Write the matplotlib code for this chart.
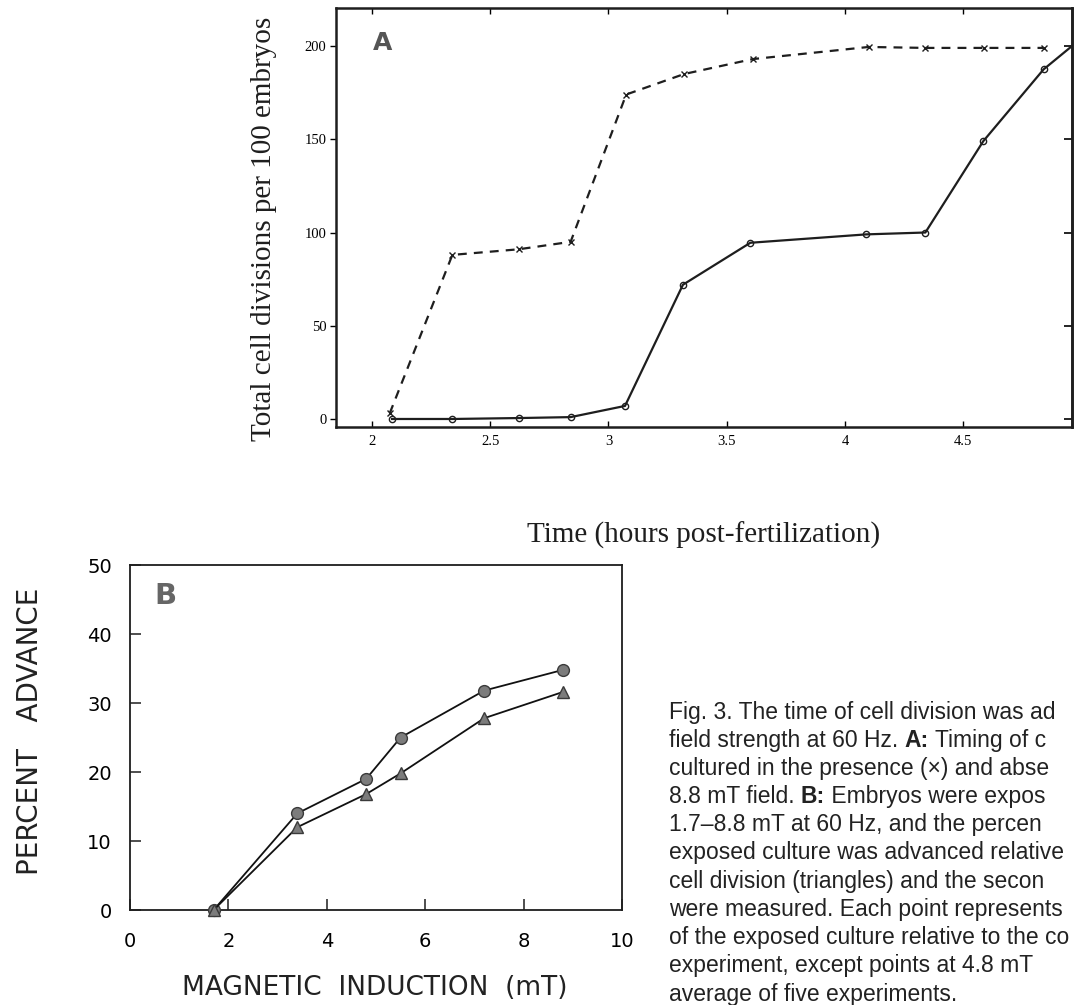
import matplotlib
matplotlib.use("Agg")
import matplotlib.pyplot as plt

# ---------------- data ----------------
# Panel A: total cell divisions per 100 embryos vs time (h post-fertilization)
time_field = [2.075, 2.34, 2.62, 2.84, 3.075, 3.32, 3.61, 4.10, 4.34, 4.59, 4.84]
div_field = [3, 88, 91, 95, 174, 185, 193, 199.5, 199, 199, 199]
time_ctrl = [2.085, 2.34, 2.62, 2.84, 3.07, 3.315, 3.60, 4.09, 4.34, 4.585, 4.84, 4.96]
div_ctrl = [0, 0, 0.5, 1, 7, 72, 94.5, 99, 100, 149, 187.5, 200]
a_xticks = [2, 2.5, 3, 3.5, 4, 4.5]
a_yticks = [0, 50, 100, 150, 200]

# Panel B: percent advance vs magnetic induction (mT)
induction = [1.7, 3.4, 4.8, 5.5, 7.2, 8.8]
adv_second = [0, 14, 19, 25, 31.8, 34.8]   # circles
adv_first = [0, 12, 16.8, 19.8, 27.8, 31.6]  # triangles
b_xticks = [0, 2, 4, 6, 8, 10]
b_yticks = [0, 10, 20, 30, 40, 50]

caption = [
    [("Fig. 3. The time of cell division was ad", False)],
    [("field strength at 60 Hz. ", False), ("A:", True), (" Timing of c", False)],
    [("cultured in the presence (\u00d7) and abse", False)],
    [("8.8 mT field. ", False), ("B:", True), (" Embryos were expos", False)],
    [("1.7\u20138.8 mT at 60 Hz, and the percen", False)],
    [("exposed culture was advanced relative", False)],
    [("cell division (triangles) and the secon", False)],
    [("were measured. Each point represents", False)],
    [("of the exposed culture relative to the co", False)],
    [("experiment, except points at 4.8 mT", False)],
    [("average of five experiments.", False)],
]

W, H = 1075, 1005
fig = plt.figure(figsize=(W / 100, H / 100), dpi=100)
fig.patch.set_facecolor("white")

serif = "Liberation Serif"
sans = "DejaVu Sans"
ink = "#1e1e1e"

# ---------------- Panel A ----------------
axA = fig.add_axes([336 / W, 1 - 427 / H, (1072 - 336) / W, (427 - 8) / H])
axA.plot(time_field, div_field, linestyle=(0, (4, 3.2)), color=ink, lw=1.6,
         marker="x", ms=4, mew=1.0)
axA.plot(time_ctrl[:-1], div_ctrl[:-1], linestyle="none", color=ink,
         marker="o", ms=4.5, mfc="white", mew=1.0)
axA.plot(time_ctrl, div_ctrl, color=ink, lw=1.6)
axA.set_xlim(1.848, 4.96)
axA.set_ylim(-4.3, 220.4)
axA.set_xticks(a_xticks)
axA.set_xticklabels([f"{v:g}" for v in a_xticks], fontfamily=serif, fontsize=10.5)
axA.set_yticks(a_yticks)
axA.set_yticklabels([str(v) for v in a_yticks], fontfamily=serif, fontsize=10.5)
axA.tick_params(axis="x", direction="in", top=True, length=4, width=1, pad=6)
axA.tick_params(axis="y", direction="out", length=4, width=1, pad=3)
secA = axA.secondary_yaxis("right")
secA.set_yticks(a_yticks)
secA.tick_params(direction="in", length=6, width=1.2, labelright=False)
for s in axA.spines.values():
    s.set_linewidth(1.8)
    s.set_color(ink)
secA.spines["right"].set_linewidth(1.8)
axA.text(0.05, 0.945, "A", transform=axA.transAxes, fontsize=18, fontweight="bold",
         color="#555555", ha="left", va="top", family=sans)
fig.text(264 / W, 1 - 229 / H, "Total cell divisions per 100 embryos", rotation=90,
         ha="center", va="center", fontsize=21, family=serif, color=ink)
fig.text(704 / W, 1 - 535 / H, "Time (hours post-fertilization)",
         ha="center", va="center", fontsize=21, family=serif, color=ink)

# ---------------- Panel B ----------------
axB = fig.add_axes([130 / W, 1 - 910 / H, (622 - 130) / W, 345 / H])
axB.plot(induction, adv_second, color="#111111", lw=1.3, marker="o", ms=8.5,
         mfc="#7c7c7c", mec="#3a3a3a", mew=1.0, zorder=3, clip_on=False)
axB.plot(induction, adv_first, color="#111111", lw=1.3, marker="^", ms=9,
         mfc="#7c7c7c", mec="#3a3a3a", mew=1.0, zorder=3, clip_on=False)
axB.set_xlim(0, 10)
axB.set_ylim(0, 50)
axB.set_xticks(b_xticks)
axB.set_xticklabels([str(v) for v in b_xticks], family=sans, fontsize=14)
axB.set_yticks(b_yticks)
axB.set_yticklabels([str(v) for v in b_yticks], family=sans, fontsize=14)
axB.tick_params(axis="both", direction="in", length=8, width=1.1, color=ink)
axB.tick_params(axis="x", pad=16)
axB.tick_params(axis="y", pad=13)
for s in axB.spines.values():
    s.set_linewidth(1.3)
    s.set_color(ink)
axB.text(0.05, 0.95, "B", transform=axB.transAxes, fontsize=21, fontweight="bold",
         color="#666666", ha="left", va="top", family=sans)
fig.text(30 / W, 1 - 731 / H, "PERCENT   ADVANCE", rotation=90, ha="center",
         va="center", fontsize=20, family=sans, color="#222222")
fig.text(375 / W, 1 - 988 / H, "MAGNETIC  INDUCTION  (mT)", ha="center",
         va="center", fontsize=19, family=sans, color="#222222")

# ---------------- Caption ----------------
x0 = 669 / W
y_first = 712
line_step = 28.2
for i, segs in enumerate(caption):
    y = 1 - (y_first + i * line_step) / H
    prev = None
    for txt, bold in segs:
        kw = dict(fontsize=16.5, family="Liberation Sans", color="#222222",
                  fontweight="bold" if bold else "normal")
        if prev is None:
            prev = fig.text(x0, y, txt, ha="left", va="center", **kw)
        else:
            prev = axB.annotate(txt, xy=(1, 0), xycoords=prev, xytext=(0, 0),
                                textcoords="offset points", ha="left", va="bottom",
                                annotation_clip=False, **kw)

fig.savefig("out.png", dpi=100, facecolor="white")
